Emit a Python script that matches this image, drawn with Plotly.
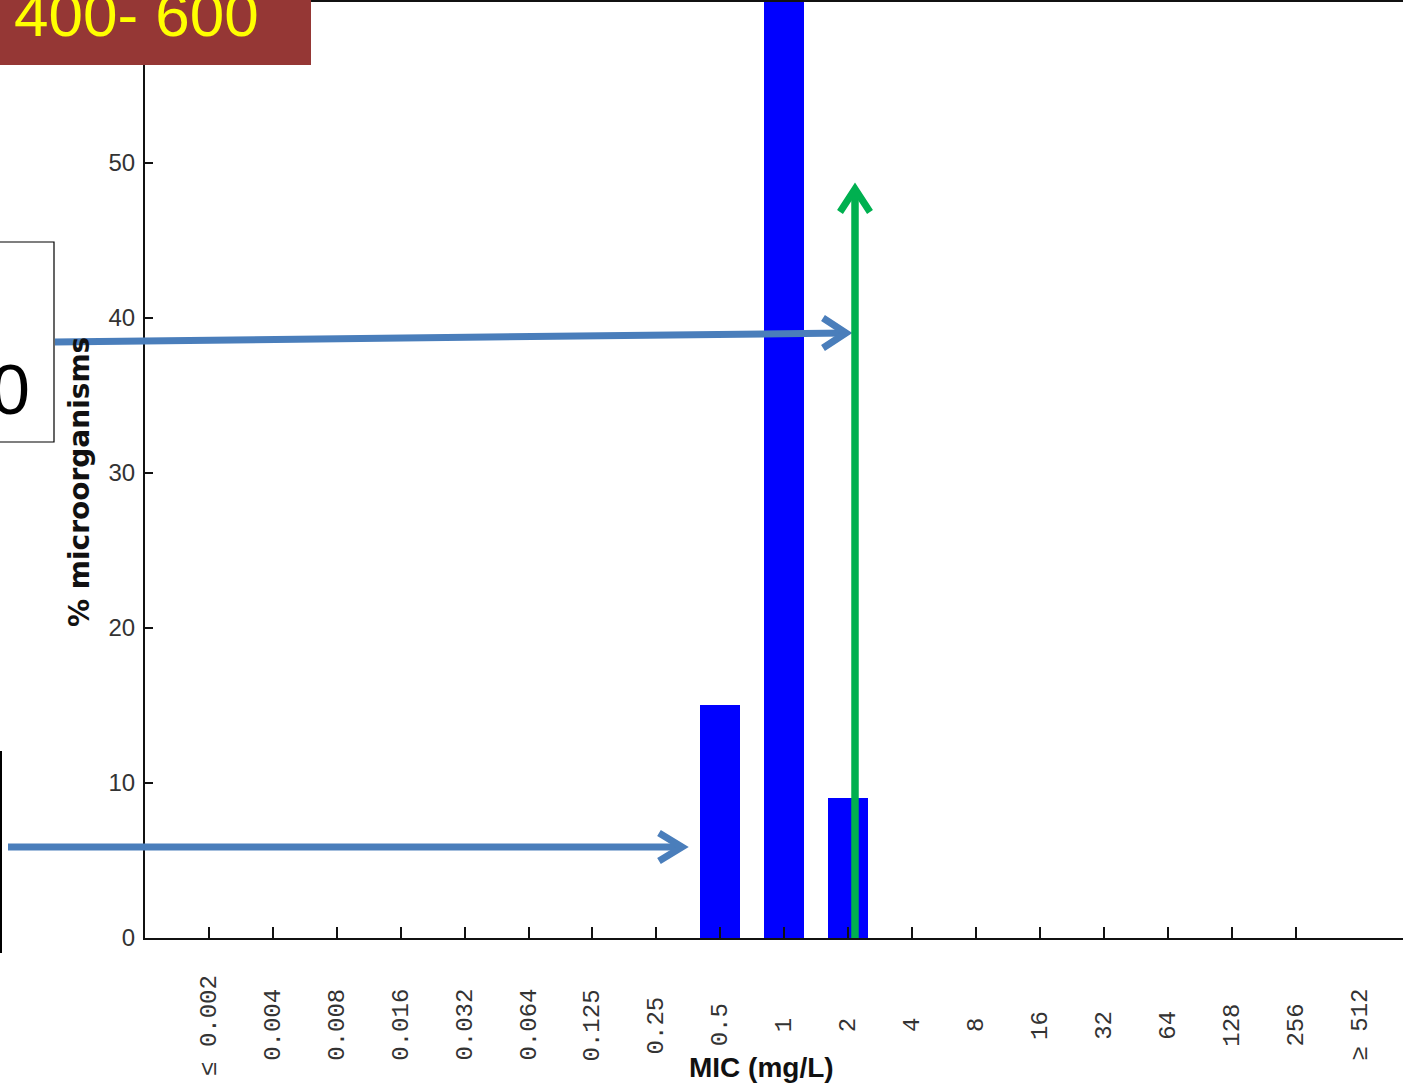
import plotly.graph_objects as go

# ---- data -------------------------------------------------------------
mic_labels = ["≤ 0.002", "0.004", "0.008", "0.016", "0.032", "0.064", "0.125",
              "0.25", "0.5", "1", "2", "4", "8", "16", "32", "64", "128", "256",
              "≥ 512"]
pct_organisms = [0, 0, 0, 0, 0, 0, 0, 0, 15, 76, 9, 0, 0, 0, 0, 0, 0, 0, 0]
y_tick_vals = [0, 10, 20, 30, 40, 50]

# ---- page geometry ----------------------------------------------------
W, H = 1403, 1088
ML, MR, MT, MB = 145, 0, 2, 150
PW, PH = W - ML - MR, H - MT - MB


def fx(x):
    """pixel column -> paper x"""
    return (x - ML) / PW


def fy(y):
    """pixel row (from top) -> paper y"""
    return (H - MB - y) / PH


SANS = "Liberation Sans, Arial, sans-serif"
MONO = "Liberation Mono, DejaVu Sans Mono, monospace"
WIDE_BOLD = "DejaVu Sans, Liberation Sans, sans-serif"

idx = list(range(len(mic_labels)))

fig = go.Figure(
    go.Bar(
        x=idx,
        y=pct_organisms,
        width=0.62,
        marker=dict(color="#0000FF", line=dict(width=0)),
        hoverinfo="skip",
    )
)

fig.update_xaxes(
    range=[-1, 18.68],
    tickvals=idx[:-1],
    showticklabels=False,
    ticks="inside",
    ticklen=11,
    tickwidth=1.5,
    tickcolor="#111",
    showline=True,
    linewidth=2,
    linecolor="#111",
    mirror=True,
    showgrid=False,
    zeroline=False,
    fixedrange=True,
)
fig.update_yaxes(
    range=[0, 60.35],
    tickvals=y_tick_vals,
    ticks="inside",
    ticklen=8,
    tickwidth=1.5,
    tickcolor="#111",
    tickfont=dict(family=SANS, size=24, color="#333"),
    ticklabelstandoff=3,
    showline=True,
    linewidth=2,
    linecolor="#111",
    showgrid=False,
    zeroline=False,
    fixedrange=True,
)

annotations = []

# category labels, rotated and centred below the axis
for i, lab in enumerate(mic_labels):
    annotations.append(dict(
        x=i, y=0, xref="x", yref="y", text=lab, showarrow=False,
        textangle=-90, xanchor="center", yanchor="middle", yshift=-87,
        font=dict(family=MONO, size=24, color="#333"),
    ))

# axis titles
annotations.append(dict(
    x=fx(761), y=fy(1067), xref="paper", yref="paper", text="<b>MIC (mg/L)</b>",
    showarrow=False, xanchor="center", yanchor="middle",
    font=dict(family=SANS, size=28, color="#111"),
))
annotations.append(dict(
    x=fx(80), y=fy(482), xref="paper", yref="paper", text="<b>% microorganisms</b>",
    showarrow=False, textangle=-90, xanchor="center", yanchor="middle",
    font=dict(family=WIDE_BOLD, size=28, color="#111"),
))

# slide callouts
annotations.append(dict(
    x=fx(136), y=fy(15), xref="paper", yref="paper", text="400- 600",
    showarrow=False, xanchor="center", yanchor="middle",
    font=dict(family=SANS, size=62, color="#FFFF00"),
))
annotations.append(dict(
    x=fx(32), y=fy(390), xref="paper", yref="paper", text="0",
    showarrow=False, xanchor="right", yanchor="middle",
    font=dict(family=SANS, size=70, color="#000"),
))

shapes = []
# dark red title box
shapes.append(dict(type="rect", xref="paper", yref="paper",
                   x0=fx(-5), x1=fx(311), y0=fy(-5), y1=fy(65),
                   fillcolor="#953735", line=dict(width=0), layer="above"))
# partial callout boxes on the left edge
shapes.append(dict(type="rect", xref="paper", yref="paper",
                   x0=fx(-20), x1=fx(54), y0=fy(242), y1=fy(442),
                   fillcolor="white", line=dict(color="#000", width=1.2), layer="above"))
shapes.append(dict(type="rect", xref="paper", yref="paper",
                   x0=fx(-20), x1=fx(1), y0=fy(752), y1=fy(952),
                   fillcolor="rgba(0,0,0,0)", line=dict(color="#000", width=2), layer="above"))


def seg(p0, p1, color, width):
    return dict(type="line", xref="paper", yref="paper",
                x0=fx(p0[0]), y0=fy(p0[1]), x1=fx(p1[0]), y1=fy(p1[1]),
                line=dict(color=color, width=width), layer="above")


def chevron(a, tip, b, color, width):
    path = "M{},{} L{},{} L{},{}".format(fx(a[0]), fy(a[1]), fx(tip[0]), fy(tip[1]),
                                          fx(b[0]), fy(b[1]))
    return dict(type="path", xref="paper", yref="paper", path=path,
                line=dict(color=color, width=width), layer="above")


BLUE = "#4A7EBB"
GREEN = "#00B050"

# upper blue arrow
shapes.append(seg((55, 342), (846, 333), BLUE, 7))
shapes.append(chevron((823, 318), (846, 333), (823, 348), BLUE, 7))
# lower blue arrow
shapes.append(seg((8, 847), (682, 847), BLUE, 7))
shapes.append(chevron((659, 833), (682, 847), (659, 861), BLUE, 7))
# green arrow
shapes.append(seg((855, 938), (855, 190), GREEN, 7.5))
shapes.append(chevron((840, 212), (855, 189), (870, 212), GREEN, 7))

fig.update_layout(
    width=W,
    height=H,
    margin=dict(l=ML, r=MR, t=MT, b=MB, pad=0),
    paper_bgcolor="white",
    plot_bgcolor="white",
    showlegend=False,
    bargap=0,
    annotations=annotations,
    shapes=shapes,
)

fig.write_html("out.html", config={"displayModeBar": False})
